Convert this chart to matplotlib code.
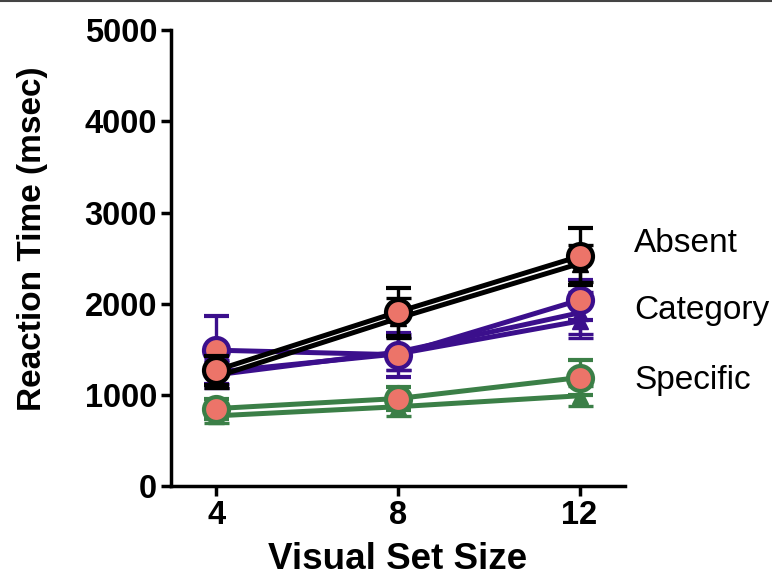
import matplotlib
matplotlib.use('Agg')
import matplotlib.pyplot as plt
from matplotlib.lines import Line2D

plt.rcParams['font.family'] = ['Liberation Sans', 'DejaVu Sans']

### data
set_size = [4, 8, 12]
group_names = ['Absent', 'Category', 'Specific']
group_label_y = [2665, 1930, 1160]

absent_circle = [1270, 1910, 2520]
absent_circle_err = [160, 260, 310]
absent_tri = [1200, 1840, 2440]
absent_tri_err = [120, 220, 200]

category_circle = [1490, 1440, 2040]
category_circle_err = [370, 240, 220]
category_tri = [1220, 1470, 1900]
category_tri_err = [140, 200, 230]
category_tri2 = [1250, 1450, 1810]
category_tri2_err = [130, 180, 190]

specific_circle = [850, 960, 1190]
specific_circle_err = [110, 130, 190]
specific_tri = [770, 870, 990]
specific_tri_err = [80, 100, 110]

black = '#000000'
purple = '#3b0f8c'
green = '#3b7f47'
salmon = '#ec7469'

fig = plt.figure(figsize=(7.72, 5.80), dpi=100)
ax = fig.add_axes([0.2215, 0.162, 0.588, 0.786])

def tri_series(x, y, err, col, z):
    ax.errorbar(x, y, yerr=err, color=col, lw=3.6, marker='^', ms=11,
                mfc=col, mec=col, elinewidth=2.4, capsize=9, capthick=2.4,
                zorder=z)

def circle_series(x, y, err, col, z):
    ax.errorbar(x, y, yerr=err, color=col, lw=3.6, marker='o', ms=18,
                mfc=salmon, mec=col, mew=3, elinewidth=2.4, capsize=9,
                capthick=2.4, zorder=z)

tri_series(set_size, specific_tri, specific_tri_err, green, 2)
circle_series(set_size, specific_circle, specific_circle_err, green, 3)
tri_series(set_size, category_tri, category_tri_err, purple, 4)
tri_series(set_size, category_tri2, category_tri2_err, purple, 4)
circle_series(set_size, category_circle, category_circle_err, purple, 5)
tri_series(set_size, absent_tri, absent_tri_err, black, 6)
circle_series(set_size, absent_circle, absent_circle_err, black, 7)

for name, yy in zip(group_names, group_label_y):
    ax.text(13.2, yy, name, fontsize=24, va='center', ha='left', clip_on=False)

ax.set_xlim(3, 13)
ax.set_ylim(0, 5000)
ax.set_xticks(set_size)
ax.set_yticks([0, 1000, 2000, 3000, 4000, 5000])
ax.tick_params(width=2.5, length=7, labelsize=23.5, pad=3)
for lab in ax.get_xticklabels() + ax.get_yticklabels():
    lab.set_fontweight('bold')
for s in ['top', 'right']:
    ax.spines[s].set_visible(False)
for s in ['left', 'bottom']:
    ax.spines[s].set_linewidth(2.5)
ax.set_xlabel('Visual Set Size', fontsize=26.5, fontweight='bold', labelpad=8)
ax.set_ylabel('Reaction Time (msec)', fontsize=24, fontweight='bold')
ax.yaxis.set_label_coords(-0.27, 0.542)

# thin grey border at the very top of the picture
fig.add_artist(Line2D([0, 1], [0.999, 0.999], color='#444444', lw=1.5))

fig.savefig('out.png', dpi=100)
